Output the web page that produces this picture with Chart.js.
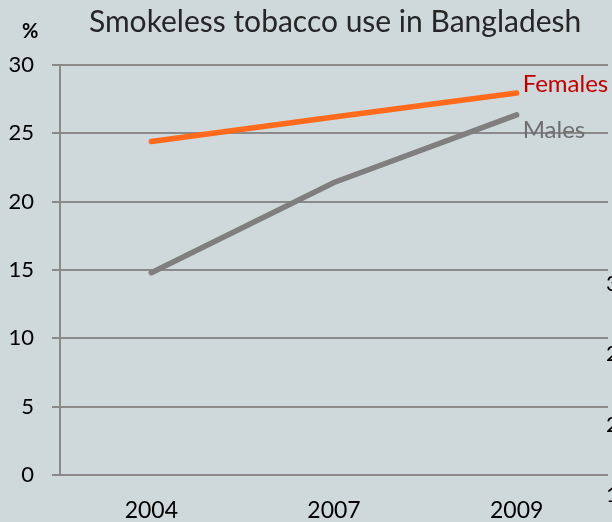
<!DOCTYPE html>
<html>
<head>
<meta charset="utf-8">
<script src="https://cdn.jsdelivr.net/npm/chart.js@4/dist/chart.umd.min.js"></script>
<style>
html,body{margin:0;padding:0;background:#cfd9db;}
#wrap{width:612px;height:522px;position:relative;}
</style>
</head>
<body>
<div id="wrap"><canvas id="c" width="612" height="522"></canvas></div>
<script>
const categories = ['2004', '2007', '2009'];
const females = [24.4, 26.2, 27.95];
const males = [14.8, 21.4, 26.35];
const seriesNames = ['Females', 'Males'];
const yTicks = [0, 5, 10, 15, 20, 25, 30];
const strayLabels = ['30', '25', '20', '15'];
const titleText = 'Smokeless tobacco use in Bangladesh';
const unitText = '%';

const FONT = 'Lato, "Open Sans", sans-serif';

const overlay = {
  id: 'overlay',
  afterDraw(chart) {
    const ctx = chart.ctx;
    const ys = chart.scales.y;
    ctx.save();
    // title
    ctx.fillStyle = '#262626';
    ctx.font = '30px ' + FONT;
    ctx.textAlign = 'left';
    ctx.textBaseline = 'alphabetic';
    ctx.fillText(titleText, 89, 32);
    // unit
    ctx.font = 'bold 20px ' + FONT;
    ctx.fillStyle = '#000';
    ctx.fillText(unitText, 22, 38);
    // series end labels
    const colors = ['#c00000', '#6f6f6f'];
    const offs = [-9, 15];
    chart.data.datasets.forEach((ds, i) => {
      const meta = chart.getDatasetMeta(i);
      const pt = meta.data[meta.data.length - 1];
      ctx.font = '24px ' + FONT;
      ctx.fillStyle = colors[i];
      ctx.textBaseline = 'middle';
      ctx.fillText(seriesNames[i], pt.x + 6, pt.y + offs[i]);
    });
    // stray labels from a neighbouring chart, clipped at the right edge
    ctx.font = '22px ' + FONT;
    ctx.fillStyle = '#000';
    ctx.textBaseline = 'middle';
    const strayVals = [30, 25, 20, 15];
    strayLabels.forEach((t, i) => {
      const y = ys.getPixelForValue(strayVals[i]);
      ctx.fillText(t, 606, 284 + (y - ys.getPixelForValue(30)) * 1.03);
    });
    ctx.restore();
  }
};

new Chart(document.getElementById('c'), {
  type: 'line',
  data: {
    labels: categories,
    datasets: [
      { label: seriesNames[0], data: females, borderColor: '#ff6a1c', borderWidth: 5.5, pointRadius: 0, borderCapStyle: 'round', tension: 0 },
      { label: seriesNames[1], data: males, borderColor: '#7f7f7f', borderWidth: 5.5, pointRadius: 0, borderCapStyle: 'round', tension: 0 }
    ]
  },
  options: {
    responsive: false,
    animation: false,
    events: [],
    layout: { padding: { top: 65, right: 4, left: 0, bottom: 0 } },
    plugins: { legend: { display: false }, title: { display: false }, tooltip: { enabled: false } },
    scales: {
      x: {
        offset: true,
        grid: { display: false, drawTicks: false },
        border: { display: false },
        ticks: { color: '#000', font: { family: FONT, size: 23 }, padding: 22 },
        afterFit(s) { s.height = 47; }
      },
      y: {
        min: 0, max: 30,
        afterBuildTicks(s) { s.ticks = yTicks.map(v => ({ value: v })); },
        grid: { color: '#8a8a8a', lineWidth: 2, tickLength: 8, drawTicks: true },
        border: { display: true, color: '#8a8a8a', width: 2 },
        ticks: { color: '#000', font: { family: FONT, size: 22 }, padding: 18 },
        afterFit(s) { s.width = 60; }
      }
    }
  },
  plugins: [overlay]
});
</script>
</body>
</html>
